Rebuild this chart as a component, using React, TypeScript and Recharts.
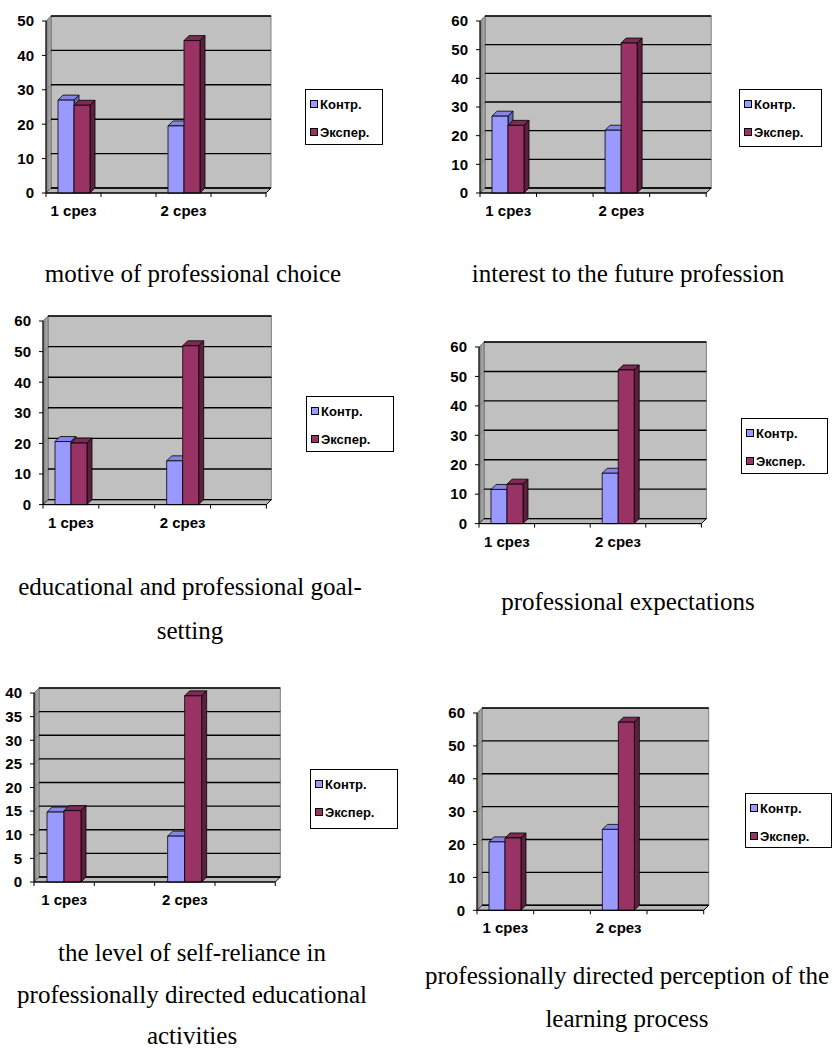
import React from "react";
import { BarChart, Bar, XAxis, YAxis, CartesianGrid, ReferenceArea, Legend } from "recharts";

// categories: the sheet had an empty column after each "срез"
const categories = ["1 срез", " ", "2 срез", "  "];
const seriesNames = ["Контр.", "Экспер."];

const motiveKontr = [27, null, 19.5, null];
const motiveEksper = [25.5, null, 44.3, null];

const interestKontr = [26.8, null, 21.9, null];
const interestEksper = [23.6, null, 52.3, null];

const goalKontr = [20.6, null, 14.3, null];
const goalEksper = [20.1, null, 51.9, null];

const expectKontr = [11.6, null, 17.1, null];
const expectEksper = [13.4, null, 52.2, null];

const selfKontr = [14.8, null, 9.7, null];
const selfEksper = [15.1, null, 39.4, null];

const perceptKontr = [20.8, null, 24.6, null];
const perceptEksper = [22, null, 57.2, null];

const ticks50 = [0, 10, 20, 30, 40, 50];
const ticks60 = [0, 10, 20, 30, 40, 50, 60];
const ticks40 = [0, 5, 10, 15, 20, 25, 30, 35, 40];

const captionMotive = ["motive of professional choice"];
const captionInterest = ["interest to the future profession"];
const captionGoal = ["educational and professional goal-", "setting"];
const captionExpect = ["professional expectations"];
const captionSelf = ["the level of self-reliance in", "professionally directed educational", "activities"];
const captionPercept = ["professionally directed perception of the", "learning process"];

const DX = 5;
const DY = 5;
const SANS = '"Liberation Sans", Arial, sans-serif';
const SERIF = '"Liberation Serif", "Times New Roman", serif';

const FACES: Record<string, { front: string; top: string; side: string }> = {
  "#9999ff": { front: "#9999ff", top: "#8585e6", side: "#6666b3" },
  "#993366": { front: "#993366", top: "#7d2a54", side: "#5e1f3f" },
};

function Bar3D(props: any) {
  const { x, y, width, height, fill } = props;
  if (!height || height <= 0) return null;
  const f = FACES[fill] || { front: fill, top: fill, side: fill };
  const b = y + height;
  const r = x + width;
  return (
    <g stroke="#000" strokeWidth={0.8} strokeLinejoin="round">
      <polygon points={`${x},${y} ${x + DX},${y - DY} ${r + DX},${y - DY} ${r},${y}`} fill={f.top} />
      <polygon points={`${r},${y} ${r + DX},${y - DY} ${r + DX},${b - DY} ${r},${b}`} fill={f.side} />
      <rect x={x} y={y} width={width} height={height} fill={f.front} />
    </g>
  );
}

function Walls(props: any) {
  const { x, y, width, height } = props;
  const b = y + height;
  const r = x + width;
  return (
    <g>
      <rect x={x + DX} y={y - DY} width={width} height={height} fill="#c0c0c0" stroke="#808080" strokeWidth={1} />
      <polygon
        points={`${x},${y} ${x + DX},${y - DY} ${x + DX},${b - DY} ${x},${b}`}
        fill="url(#leftWall)"
        stroke="#606060"
        strokeWidth={0.8}
      />
      <polygon
        points={`${x},${b} ${x + DX},${b - DY} ${r + DX},${b - DY} ${r},${b}`}
        fill="#b8b8b8"
        stroke="#000"
        strokeWidth={1}
      />
    </g>
  );
}

function GridLine(p: any) {
  return (
    <g key={p.key}>
      <line x1={p.x1} y1={p.y1} x2={p.x1 + DX} y2={p.y1 - DY} stroke="#777" strokeWidth={0.8} />
      <line x1={p.x1 + DX} y1={p.y1 - DY} x2={p.x2 + DX} y2={p.y2 - DY} stroke="#000" strokeWidth={1.4} />
    </g>
  );
}

function CatTick(props: any) {
  const { x, y, payload, index, bw } = props;
  const half = bw / 2;
  return (
    <g>
      <line x1={x - half} y1={y} x2={x - half} y2={y + 4} stroke="#000" strokeWidth={1} />
      {index === categories.length - 1 && (
        <line x1={x + half} y1={y} x2={x + half} y2={y + 4} stroke="#000" strokeWidth={1} />
      )}
      <text x={x} y={y + 23} textAnchor="middle" fontFamily={SANS} fontWeight="bold" fontSize={15} fill="#000">
        {payload.value.trim()}
      </text>
    </g>
  );
}

function LegendBox(props: any) {
  const { payload, box } = props;
  return (
    <div
      style={{
        width: box.w,
        height: box.h,
        boxSizing: "border-box",
        border: "1px solid #000",
        background: "#fff",
        fontFamily: SANS,
        fontWeight: "bold",
        fontSize: 13,
        color: "#000",
        position: "relative",
      }}
    >
      {(payload || []).map((e: any, i: number) => (
        <div
          key={e.value}
          style={{ position: "absolute", left: 4, top: 6 + i * 28, height: 17, display: "flex", alignItems: "center" }}
        >
          <span
            style={{
              display: "inline-block",
              width: 6,
              height: 6,
              border: "1.5px solid #000",
              background: e.color,
              marginRight: 2,
            }}
          />
          {e.value}
        </div>
      ))}
    </div>
  );
}

type Geo = {
  axisX: number;
  axisRight: number;
  yTop: number;
  yZero: number;
  legend: { x: number; y: number; w: number; h: number };
  barSize: number;
};

function Panel({
  kontr,
  eksper,
  ticks,
  geo,
}: {
  kontr: (number | null)[];
  eksper: (number | null)[];
  ticks: number[];
  geo: Geo;
}) {
  const YW = 45;
  const L = geo.axisX - YW;
  const T = geo.yTop - 12;
  const W = geo.legend.x + geo.legend.w + 6 - L;
  const H = geo.yZero - T + 30;
  const rightMargin = L + W - geo.axisRight;
  const bw = (geo.axisRight - geo.axisX) / categories.length;
  const data = categories.map((c, i) => ({ cat: c, kontr: kontr[i], eksper: eksper[i] }));
  const yMax = ticks[ticks.length - 1];
  return (
    <div style={{ position: "absolute", left: L, top: T }}>
      <BarChart
        width={W}
        height={H}
        data={data}
        margin={{ top: 12, left: 0, right: rightMargin, bottom: 6 }}
        barGap={0}
        barSize={geo.barSize}
      >
        <defs>
          <linearGradient id="leftWall" x1="0" y1="0" x2="1" y2="0">
            <stop offset="0%" stopColor="#7a7a7a" />
            <stop offset="100%" stopColor="#b8b8b8" />
          </linearGradient>
        </defs>
        <ReferenceArea y1={0} y2={yMax} shape={Walls} ifOverflow="visible" zIndex={-200} />
        <CartesianGrid vertical={false} horizontal={GridLine} />
        <XAxis
          dataKey="cat"
          interval={0}
          height={24}
          tickLine={false}
          tickSize={0}
          tickMargin={0}
          axisLine={{ stroke: "#000", strokeWidth: 1 }}
          tick={(p: any) => <CatTick {...p} bw={bw} />}
        />
        <YAxis
          width={YW}
          domain={[0, yMax]}
          ticks={ticks}
          interval={0}
          tickSize={4}
          tickMargin={8}
          axisLine={{ stroke: "#000", strokeWidth: 1 }}
          tickLine={{ stroke: "#000" }}
          tick={{ fill: "#000", fontSize: 15, fontWeight: "bold", fontFamily: SANS }}
        />
        <Legend
          layout="horizontal"
          verticalAlign="middle"
          align="center"
          wrapperStyle={{
            position: "absolute",
            left: geo.legend.x - L,
            top: geo.legend.y - T,
            width: geo.legend.w,
            height: geo.legend.h,
          }}
          content={(p: any) => <LegendBox {...p} box={geo.legend} />}
        />
        <Bar dataKey="kontr" name={seriesNames[0]} fill="#9999ff" shape={Bar3D} legendType="square" isAnimationActive={false} />
        <Bar dataKey="eksper" name={seriesNames[1]} fill="#993366" shape={Bar3D} legendType="square" isAnimationActive={false} />
      </BarChart>
    </div>
  );
}

function Caption({ lines, cx, baseline, lineHeight }: { lines: string[]; cx: number; baseline: number; lineHeight: number }) {
  const fs = 25;
  const lh = fs * 1.15;
  const ascentTop = (lh - fs * 1.107) / 2 + fs * 0.891;
  return (
    <>
      {lines.map((l, i) => (
        <div
          key={l}
          style={{
            position: "absolute",
            left: cx - 250,
            width: 500,
            top: baseline + i * lineHeight - ascentTop,
            height: lh,
            textAlign: "center",
            fontFamily: SERIF,
            fontSize: fs,
            lineHeight: `${lh}px`,
            color: "#000",
            whiteSpace: "nowrap",
          }}
        >
          {l}
        </div>
      ))}
    </>
  );
}

export default function App() {
  return (
    <div style={{ position: "absolute", left: 0, top: 0, width: 835, height: 1051, background: "#fff", overflow: "hidden" }}>
      <Panel
        kontr={motiveKontr}
        eksper={motiveEksper}
        ticks={ticks50}
        geo={{ axisX: 45.5, axisRight: 265.5, yTop: 20.7, yZero: 192.7, legend: { x: 305, y: 89, w: 78, h: 56 }, barSize: 16 }}
      />
      <Panel
        kontr={interestKontr}
        eksper={interestEksper}
        ticks={ticks60}
        geo={{ axisX: 479.5, axisRight: 705.7, yTop: 20.7, yZero: 192.7, legend: { x: 739, y: 89, w: 83, h: 58 }, barSize: 16 }}
      />
      <Panel
        kontr={goalKontr}
        eksper={goalEksper}
        ticks={ticks60}
        geo={{ axisX: 43.3, axisRight: 266.7, yTop: 320.7, yZero: 504.3, legend: { x: 306, y: 396, w: 88, h: 56 }, barSize: 16 }}
      />
      <Panel
        kontr={expectKontr}
        eksper={expectEksper}
        ticks={ticks60}
        geo={{ axisX: 479.3, axisRight: 701.7, yTop: 346.7, yZero: 523.3, legend: { x: 741, y: 418, w: 87, h: 56 }, barSize: 16 }}
      />
      <Panel
        kontr={selfKontr}
        eksper={selfEksper}
        ticks={ticks40}
        geo={{ axisX: 34, axisRight: 275.3, yTop: 693.3, yZero: 882.3, legend: { x: 310, y: 769, w: 88, h: 60 }, barSize: 17 }}
      />
      <Panel
        kontr={perceptKontr}
        eksper={perceptEksper}
        ticks={ticks60}
        geo={{ axisX: 477.3, axisRight: 704, yTop: 712.7, yZero: 910, legend: { x: 745, y: 793, w: 87, h: 55 }, barSize: 16 }}
      />
      <Caption lines={captionMotive} cx={193} baseline={283} lineHeight={43} />
      <Caption lines={captionInterest} cx={628} baseline={283} lineHeight={43} />
      <Caption lines={captionGoal} cx={190} baseline={596} lineHeight={44} />
      <Caption lines={captionExpect} cx={628} baseline={611} lineHeight={43} />
      <Caption lines={captionSelf} cx={192} baseline={962} lineHeight={41.5} />
      <Caption lines={captionPercept} cx={627} baseline={985} lineHeight={43} />
    </div>
  );
}
